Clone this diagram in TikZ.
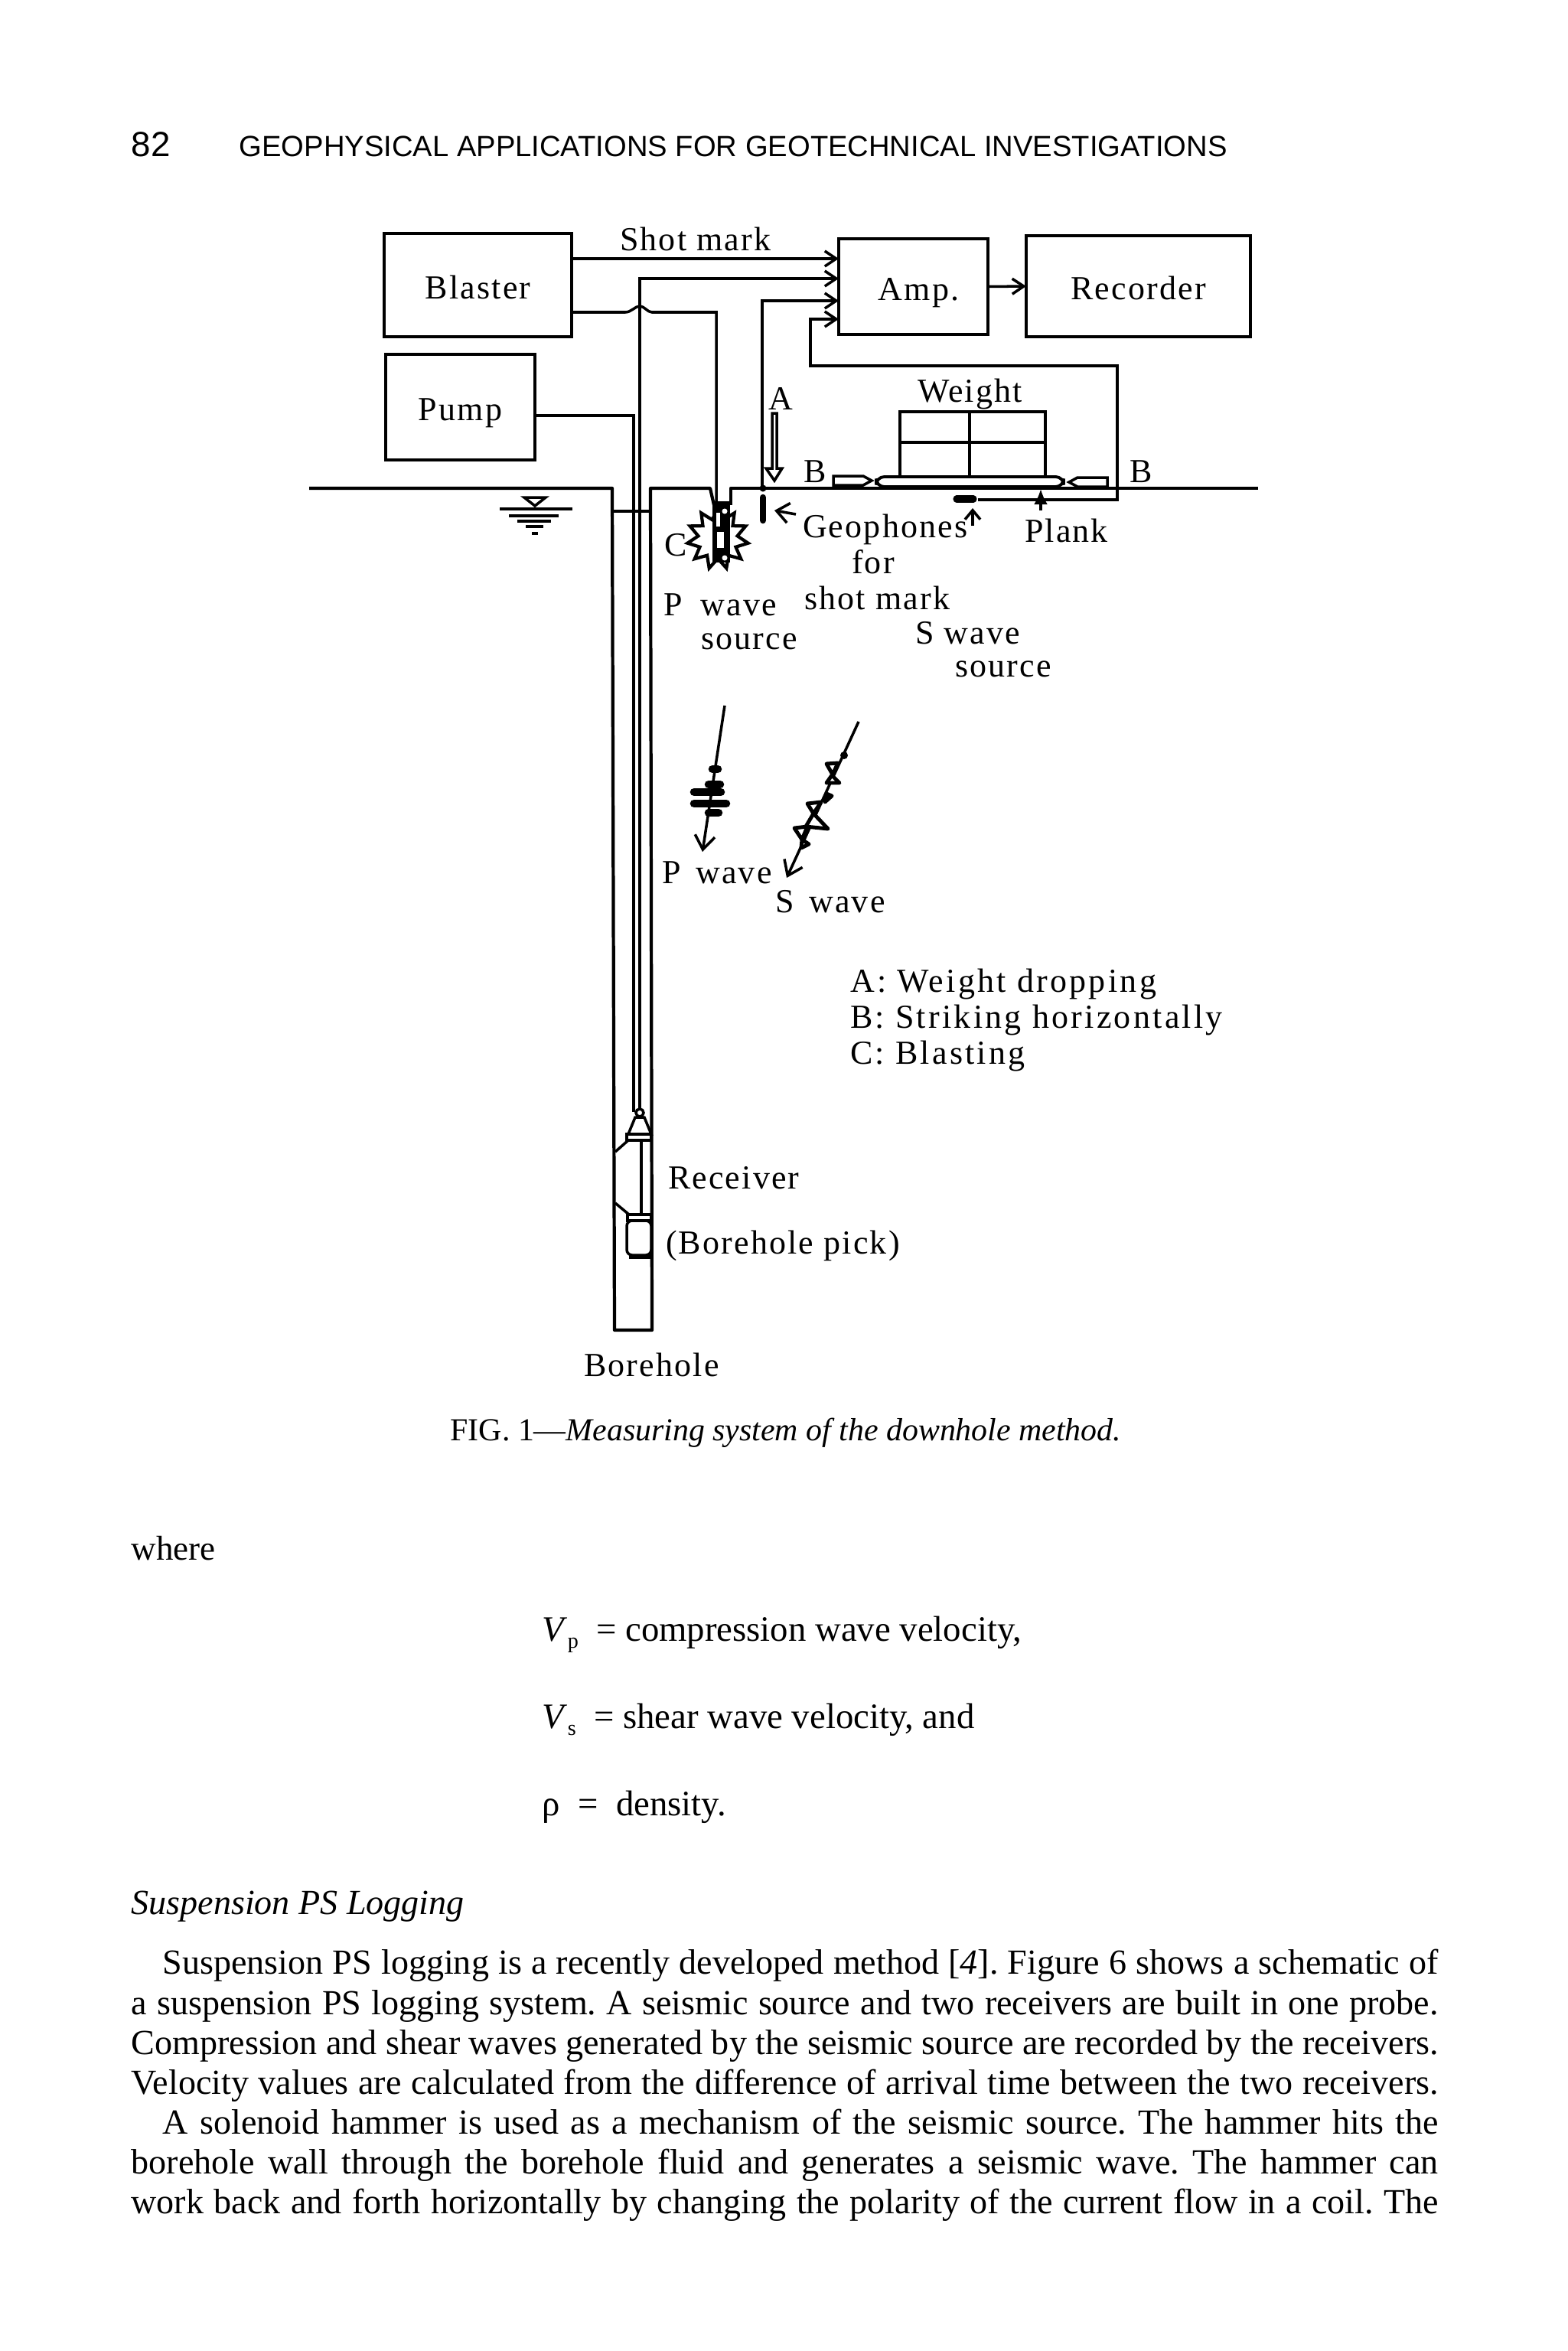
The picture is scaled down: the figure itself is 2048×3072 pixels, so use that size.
\documentclass[tikz,border=0pt]{standalone}
\usepackage{fontspec}
\usetikzlibrary{arrows.meta,positioning,calc,shapes.geometric}
\setmainfont{Liberation Serif}
\newfontfamily\figfont[LetterSpace=5]{Liberation Serif}
\newfontfamily\legfont[LetterSpace=7.5]{Liberation Serif}
\newfontfamily\headfont{Liberation Sans}
\newcommand{\bodyline}[2]{\makebox[#1cm][s]{\frenchspacing #2}}
\begin{document}
\begin{tikzpicture}[
  x=0.01cm, y=-0.01cm,
  inst/.style={draw, line width=1.1pt, inner sep=0pt, outer sep=0pt, text height=0.35cm, text depth=0pt, font=\figfont\fontsize{12.5}{15}\selectfont},
  lbl/.style={anchor=base west, inner sep=0pt, outer sep=0pt, font=\figfont\fontsize{12.5}{15}\selectfont},
  leg/.style={lbl, font=\legfont\fontsize{12.5}{15}\selectfont},
  head/.style={anchor=base west, inner sep=0pt, font=\headfont\fontsize{10.86}{14}\selectfont},
  page/.style={anchor=base west, inner sep=0pt, font=\fontsize{13.1}{15}\selectfont},
  wire/.style={line width=1pt},
  sig/.style={wire, -{Straight Barb[length=1.5mm,width=2mm]}},
  ground/.style={line width=1.2pt, line join=round},
  pulse/.style={line width=3pt, line cap=round}
]
\useasboundingbox (0,0) rectangle (2048,3072);
% page text
\node[head, font=\headfont\fontsize{13}{16}\selectfont] (folio) at (171,204) {82};
\node[head] (runhead) at (312,204) {GEOPHYSICAL APPLICATIONS FOR GEOTECHNICAL INVESTIGATIONS};
\node[page, font=\fontsize{11.9}{15}\selectfont] (caption) at (588,1882) {FIG. 1---\textit{Measuring system of the downhole method.}};
\node[page, font=\fontsize{12.8}{15}\selectfont] (where) at (171,2038) {where};
\node[page, font=\fontsize{13.3}{15}\selectfont] (vp) at (708,2144) {\textit{V}\raisebox{-0.45ex}{\footnotesize p}\ \ = compression wave velocity,};
\node[page, font=\fontsize{13.3}{15}\selectfont] (vs) at (708,2258) {\textit{V}\raisebox{-0.45ex}{\footnotesize s}\ \ = shear wave velocity, and};
\node[page, font=\fontsize{13.3}{15}\selectfont] (rho) at (708,2372) {ρ\ \ =\ \ density.};
\node[page] (sect) at (171,2501) {\textit{Suspension PS Logging}};
\node[page] (l1) at (212,2579) {\bodyline{16.66}{Suspension PS logging is a recently developed method [\textit{4}]. Figure 6 shows a schematic of}};
\node[page] (l2) at (171,2632) {\bodyline{17.07}{a suspension PS logging system. A seismic source and two receivers are built in one probe.}};
\node[page] (l3) at (171,2684) {\bodyline{17.07}{Compression and shear waves generated by the seismic source are recorded by the receivers.}};
\node[page] (l4) at (171,2736) {\bodyline{17.07}{Velocity values are calculated from the difference of arrival time between the two receivers.}};
\node[page] (l5) at (212,2788) {\bodyline{16.66}{A solenoid hammer is used as a mechanism of the seismic source. The hammer hits the}};
\node[page] (l6) at (171,2840) {\bodyline{17.07}{borehole wall through the borehole fluid and generates a seismic wave. The hammer can}};
\node[page] (l7) at (171,2892) {\bodyline{17.07}{work back and forth horizontally by changing the polarity of the current flow in a coil. The}};
% instruments
\node[inst, minimum width=2.45cm, minimum height=1.35cm] (blaster) at (624.5,372.5) {Blaster};
\node[inst, minimum width=1.95cm, minimum height=1.38cm] (pump) at (601.5,532) {Pump};
\node[inst, minimum width=1.95cm, minimum height=1.25cm] (amp) at (1193.5,374.5) {\hspace*{0.14cm}Amp.};
\node[inst, minimum width=2.93cm, minimum height=1.32cm] (recorder) at (1487.5,374) {Recorder};
\draw[sig] (amp.east) -- (recorder.west);
\draw[sig] (blaster.east |- 0,338) -- (amp.west |- 0,338);
\draw[sig] (836,1453) -- (836,364) -- (amp.west |- 0,364);
\draw[sig] (996,638) -- (996,393) -- (amp.west |- 0,393);
\draw[sig] (1278,653) -- (1460,653) -- (1460,478) -- (1059,478) -- (1059,417) -- (amp.west |- 0,417);
\draw[wire] (blaster.east |- 0,408) -- (817,408) .. controls (825,408) and (830,400) .. (836,400) .. controls (842,400) and (846,408) .. (852,408) -- (936,408) -- (936,660);
\draw[wire] (pump.east |- 0,543) -- (828,543) -- (828,1453);
% ground and borehole
\draw[ground] (404,638) -- (800,638) -- (803,1738) -- (852,1738) -- (850,638) -- (928,638) -- (933,660);
\draw[ground] (955,660) -- (955,638) -- (1644,638);
\draw[wire] (800,668) -- (850,668);
% water level
\draw[wire, fill=white] (685,650) -- (713,650) -- (699,661) -- cycle;
\foreach \wy/\wa/\wb in {665/653/748, 674/665/730, 681/676/720, 688/687/710, 697/695/703}{\draw[line width=1.1pt] (\wa,\wy) -- (\wb,\wy);}
% blast
\node[star, star points=11, star point ratio=1.55, draw, line width=1.2pt, fill=white, minimum size=0.8cm, inner sep=0pt] (blast) at (938,704) {};
\fill (931,655) -- (954,655) -- (954,735) -- (931,735) -- cycle;
\fill[white] (937,695) rectangle (946,716);
\fill[white] (936,670) rectangle (941,688);
\fill[white] (947,668) circle (3.5);
\fill[white] (947,729) circle (3.5);
% geophones and hitting gear
\fill (997,638) circle (4.5);
\draw[line width=2.4pt, line cap=round] (997,650) -- (997,680);
\draw[wire, -{Straight Barb[length=1.6mm,width=2.6mm]}] (1040,672) -- (1012,667);
\draw[line width=2.6pt, line cap=round] (1250,652) -- (1272,652);
\draw[wire, -{Straight Barb[length=1.2mm,width=2mm]}] (1271,687) -- (1271,664);
\draw[wire, -{Latex[length=2mm,width=1.8mm]}] (1360,667) -- (1360,639);
\draw[wire] (1009,540) -- (1015,540) -- (1015,612) -- (1022,612) -- (1012,628) -- (1001,612) -- (1009,612) -- cycle;
\draw[line width=1.1pt] (1176,622) -- (1176,538) -- (1366,538) -- (1366,622);
\draw[line width=1.1pt] (1176,578) -- (1366,578) (1267,538) -- (1267,622);
\draw[line width=1.1pt, rounded corners=3pt] (1145,623) rectangle (1390,636);
\draw[wire] (1089,622) -- (1128,622) -- (1139,628) -- (1128,634) -- (1089,634) -- cycle;
\draw[wire] (1447,624) -- (1408,624) -- (1397,630) -- (1408,636) -- (1447,636) -- cycle;
% waves
\draw[wire, -{Straight Barb[length=1.8mm,width=2.6mm]}] (947,922) -- (918,1113);
\foreach \pa/\pb/\py in {931/938/1005, 926/941/1025, 907/942/1035, 907/949/1050, 926/939/1062}{\draw[pulse] (\pa,\py) -- (\pb,\py);}
\draw[wire, -{Straight Barb[length=1.8mm,width=2.6mm]}] (1122,943) -- (1028,1147);
\fill (1103,987) circle (5);
\foreach \ax/\ay/\bx/\by/\cx/\cy in {1080/998/1095/997/1088/1012, 1087/1013/1097/1023/1080/1023, 1080/1037/1087/1040/1078/1048, 1055/1050/1073/1048/1063/1063, 1063/1063/1082/1083/1053/1080, 1038/1082/1055/1080/1048/1097, 1048/1097/1057/1103/1047/1108}{\draw[line width=1.4pt, line join=round, fill=white] (\ax,\ay) -- (\bx,\by) -- (\cx,\cy) -- cycle;}
% receiver
\draw[wire, fill=white] (836,1454) circle (5);
\draw[wire, fill=white] (830,1460) -- (842,1460) -- (851,1482) -- (821,1482) -- cycle;
\draw[line width=1pt] (819,1482) rectangle (851,1490);
\draw[wire] (821,1490) -- (804,1505);
\draw[wire] (804,1572) -- (822,1587);
\draw[wire] (838,1490) -- (838,1587);
\draw[line width=1pt] (820,1587) rectangle (851,1595);
\draw[line width=1pt, rounded corners=2pt] (819,1595) rectangle (851,1640);
\draw[line width=1.6pt] (822,1642) -- (851,1642);
% labels
\node[lbl] (shotmark) at (810,327) {Shot mark};
\node[lbl] (labela) at (1004,535) {A};
\node[lbl] (weight) at (1199,525) {Weight};
\node[lbl] (labelb) at (1050,630) {B};
\node[lbl] (labelbb) at (1476,630) {B};
\node[lbl] (labelc) at (868,726) {C};
\node[lbl] (geo) at (1049,702) {Geophones};
\node[lbl] (plank) at (1339,708) {Plank};
\node[lbl] (for) at (1113,749) {for};
\node[lbl] (shot) at (1051,796) {shot mark};
\node[lbl] (psource) at (867,804) {P\hskip.55em wave};
\node[lbl] (psrc) at (916,848) {source};
\node[lbl] (ssource) at (1196,841) {S wave};
\node[lbl] (ssrc) at (1248,884) {source};
\node[lbl] (pwave) at (865,1154) {P\hskip.45em wave};
\node[lbl] (swave) at (1013,1192) {S\hskip.45em wave};
\node[leg] (lega) at (1111,1296) {A: Weight dropping};
\node[leg] (legb) at (1111,1343) {B: Striking horizontally};
\node[leg] (legc) at (1111,1390) {C: Blasting};
\node[lbl] (receiver) at (873,1553) {Receiver};
\node[lbl] (pick) at (870,1638) {(Borehole pick)};
\node[lbl] (borehole) at (763,1798) {Borehole};
\end{tikzpicture}
\end{document}
